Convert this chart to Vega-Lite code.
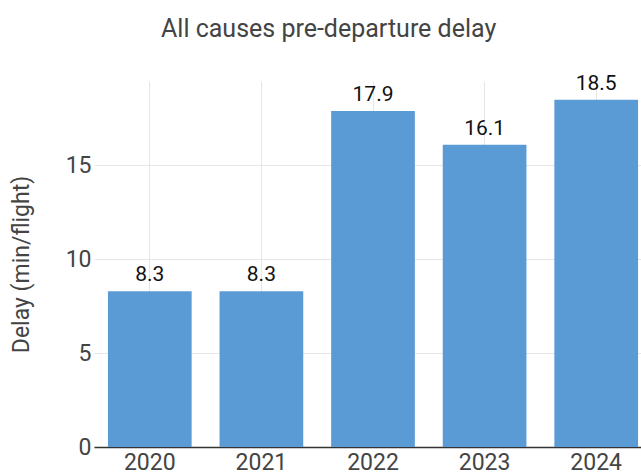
{
  "$schema": "https://vega.github.io/schema/vega-lite/v6.json",
  "autosize": {"type": "none"},
  "padding": {"left": 94, "top": 81, "right": 0, "bottom": 30},
  "width": 558,
  "height": 366,
  "background": "white",
  "title": {
    "text": "All causes pre-departure delay",
    "anchor": "start",
    "frame": "group",
    "dx": 67,
    "offset": 31,
    "font": "Roboto",
    "fontSize": 25,
    "fontWeight": "normal",
    "color": "#444444"
  },
  "data": {
    "values": [
      {"year": "2020", "delay": 8.3},
      {"year": "2021", "delay": 8.3},
      {"year": "2022", "delay": 17.9},
      {"year": "2023", "delay": 16.1},
      {"year": "2024", "delay": 18.5}
    ]
  },
  "config": {
    "view": {"stroke": null},
    "font": "Roboto"
  },
  "encoding": {
    "x": {
      "field": "year",
      "type": "nominal",
      "scale": {"paddingInner": 0.25, "paddingOuter": 0.125},
      "axis": {
        "title": null,
        "labelAngle": 0,
        "labelFont": "Roboto",
        "labelFontSize": 23,
        "labelColor": "#444444",
        "labelPadding": 4,
        "ticks": false,
        "grid": true,
        "gridColor": "#e6e6e6",
        "domainColor": "#333333",
        "domainWidth": 1.5
      }
    },
    "y": {
      "field": "delay",
      "type": "quantitative",
      "scale": {"domain": [0, 19.5], "nice": false},
      "axis": {
        "title": "Delay (min/flight)",
        "titleFont": "Roboto",
        "titleFontSize": 23,
        "titleFontWeight": "normal",
        "titleColor": "#444444",
        "titlePadding": 32,
        "values": [0, 5, 10, 15],
        "labelFont": "Roboto",
        "labelFontSize": 23,
        "labelColor": "#444444",
        "labelPadding": 3,
        "ticks": false,
        "domain": false,
        "gridColor": "#e6e6e6"
      }
    }
  },
  "layer": [
    {
      "mark": {"type": "bar", "color": "#5b9bd5"}
    },
    {
      "mark": {"type": "text", "dy": -10, "baseline": "alphabetic", "font": "Roboto", "fontSize": 21, "color": "#111111"},
      "encoding": {
        "text": {"field": "delay", "type": "quantitative", "format": ".1f"}
      }
    }
  ]
}
